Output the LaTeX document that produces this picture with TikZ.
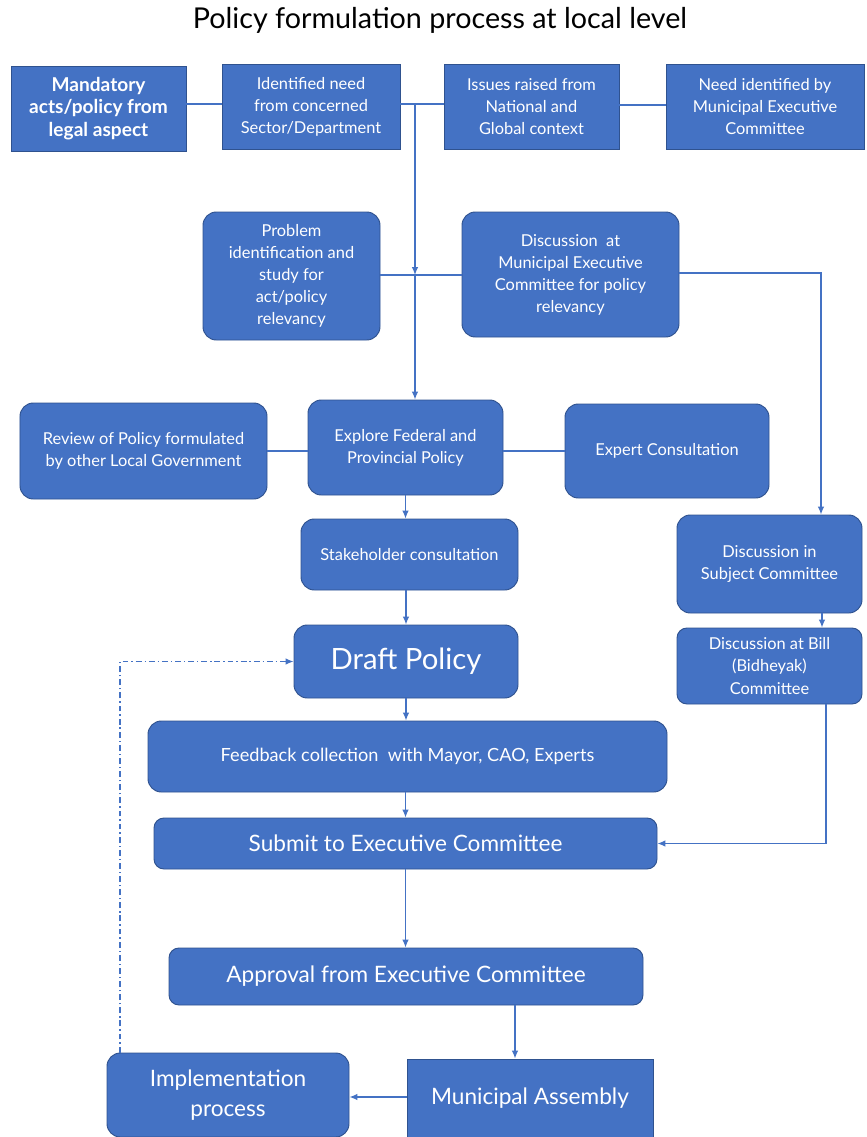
\documentclass[tikz,border=0pt]{standalone}
\usepackage{fontspec}
\setmainfont{Lato}
\usepackage{tikz}
\usetikzlibrary{positioning,arrows.meta}
\definecolor{boxblue}{RGB}{68,114,196}
\definecolor{edgeblue}{RGB}{47,82,143}
\definecolor{lineblue}{RGB}{68,114,196}
\tikzset{
  link/.style={draw=lineblue, line width=1.1pt},
  arrow/.style={link, -{Latex[length=2.4mm,width=2mm]}},
  dashlink/.style={arrow, dash pattern={on 5pt off 2.5pt on 1.2pt off 2.5pt}},
  title/.style={font=\fontsize{24.5}{28}\selectfont, text=black},
  block/.style={
    draw=edgeblue,
    fill=boxblue,
    rectangle,
    line width=0.8pt,
    text=white,
    align=center,
    inner sep=1pt,
    font=\fontsize{14}{18.8}\selectfont
  },
  rblock/.style={block, rounded corners=4mm},
  bigtext/.style={font=\fontsize{19.3}{26}\selectfont},
  hugetext/.style={font=\fontsize{25}{28}\selectfont}
}

\begin{document}
\begin{tikzpicture}[x=0.3mm, y=-0.3mm]
\useasboundingbox (0,0) rectangle (866,1137);

% Title
\node[title] (head) at (440,20) {Policy formulation process at local level};

% Sources of policy need
\node[block, minimum width=52.5mm, minimum height=25.5mm,
  font=\bfseries\fontsize{16.3}{19.5}\selectfont] (mandatory) at (98.5,108.5)
  {Mandatory\\acts/policy from\\legal aspect};
\node[block, minimum width=53.4mm, minimum height=25.5mm] (sectorneed) at (311,106.5)
  {Identified need\\from concerned\\Sector/Department};
\node[block, minimum width=52.5mm, minimum height=25.5mm] (issues) at (531.5,106.5)
  {Issues raised from\\National and\\Global context};
\node[block, minimum width=59.4mm, minimum height=25.5mm] (mecneed) at (765,106.5)
  {Need identified by\\Municipal Executive\\Committee};

% Relevancy study
\node[rblock, minimum width=53.1mm, minimum height=38.4mm] (probid) at (291.5,276)
  {Problem\\identification and\\study for\\act/policy\\relevancy};
\node[rblock, minimum width=65.1mm, minimum height=37.5mm] (mecdisc) at (570.5,274.5)
  {Discussion\ \ at\\Municipal Executive\\Committee for policy\\relevancy};

% Exploring
\node[rblock, minimum width=74.1mm, minimum height=28.8mm] (review) at (143.5,451)
  {Review of Policy formulated\\by other Local Government};
\node[rblock, minimum width=58.5mm, minimum height=28.5mm] (explore) at (405.5,447.5)
  {Explore Federal and\\Provincial Policy};
\node[rblock, minimum width=61.2mm, minimum height=28.2mm] (expert) at (667,451)
  {Expert Consultation};

% Drafting
\node[rblock, minimum width=65.1mm, minimum height=21.3mm] (stake) at (409.5,554.5)
  {Stakeholder consultation};
\node[rblock, hugetext, minimum width=67.2mm, minimum height=21.9mm] (draft) at (406,661.5)
  {Draft Policy};
\node[rblock, font=\fontsize{15.5}{19}\selectfont, minimum width=155.7mm, minimum height=21.3mm] (feedback) at (407.5,756.5)
  {Feedback collection\ \ with Mayor, CAO, Experts};
\node[rblock, bigtext, minimum width=150.9mm, minimum height=15.3mm, rounded corners=3mm] (submit) at (405.5,843.5)
  {Submit to Executive Committee};
\node[rblock, bigtext, minimum width=142.2mm, minimum height=17.1mm, rounded corners=3mm] (approval) at (406,976.5)
  {Approval from Executive Committee};
\node[block, bigtext, minimum width=73.8mm, minimum height=23.4mm] (assembly) at (530,1098)
  {Municipal Assembly};
\node[rblock, bigtext, minimum width=72.6mm, minimum height=25.2mm] (implement) at (228,1095)
  {Implementation\\process};

% Committee track
\node[rblock, minimum width=55.5mm, minimum height=29.4mm] (subject) at (769.5,564)
  {Discussion in\\Subject Committee};
\node[rblock, minimum width=55.5mm, minimum height=22.8mm, rounded corners=3mm] (bill) at (769.5,666)
  {Discussion at Bill\\(Bidheyak)\\Committee};

% Links between sources
\draw[link] (mandatory.east |- 0,104) -- (sectorneed.west |- 0,104);
\draw[link] (sectorneed.east |- 0,104) -- (issues.west |- 0,104);
\draw[link] (issues.east |- 0,105) -- (mecneed.west |- 0,105);
\draw[link] (probid.east |- 0,275) -- (mecdisc.west |- 0,275);

% Main trunk
\coordinate (trunktop) at (415,104);
\coordinate (trunkmid) at (415,275);
\draw[arrow] (trunktop) -- (trunkmid);
\draw[arrow] (trunkmid) -- (explore.north -| trunkmid);

% Side links of exploring
\draw[link] (review.east |- 0,451) -- (explore.west |- 0,451);
\draw[link] (explore.east |- 0,451) -- (expert.west |- 0,451);

% Drafting chain
\draw[arrow] (explore.south) -- (stake.north -| explore.south);
\draw[arrow] (stake.south -| draft.north) -- (draft.north);
\draw[arrow] (draft.south) -- (feedback.north -| draft.south);
\draw[arrow] (feedback.south -| submit.north) -- (submit.north);
\draw[arrow] (submit.south) -- (approval.north -| submit.south);
\draw[arrow] (approval.south -| 515,0) -- (assembly.north -| 515,0);
\draw[arrow] (assembly.west |- 0,1097) -- (implement.east |- 0,1097);

% Committee track
\draw[arrow] (mecdisc.east |- 0,273) -| (subject.north -| 821,0);
\draw[arrow] (subject.south -| 822,0) -- (bill.north -| 822,0);
\draw[arrow] (bill.south -| 826,0) |- (submit.east);

% Feedback loop
\draw[dashlink] (implement.north -| 120,0) |- (draft.west);

\end{tikzpicture}
\end{document}
